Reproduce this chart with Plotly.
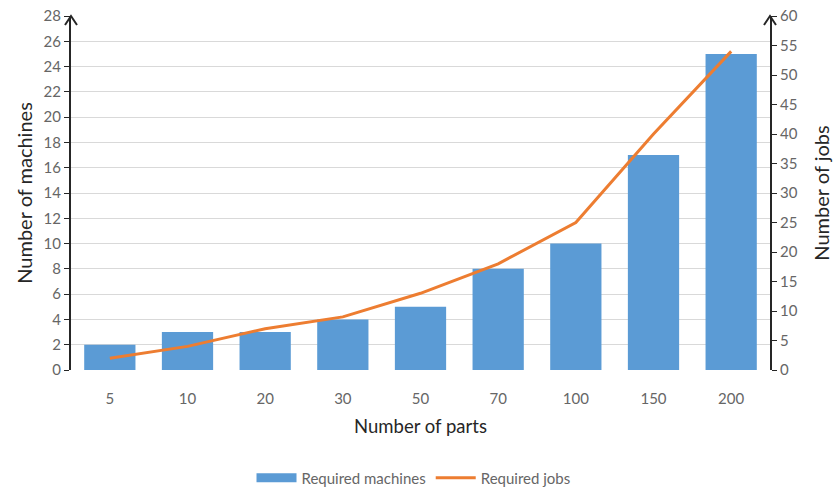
import plotly.graph_objects as go

parts = ["5", "10", "20", "30", "50", "70", "100", "150", "200"]
machines = [2, 3, 3, 4, 5, 8, 10, 17, 25]
jobs = [2, 4, 7, 9, 13, 18, 25, 40, 54]

FONT = "Lato"
TICK = "#666666"
DARK = "#262626"
BLUE = "#5B9BD5"
ORANGE = "#ED7D31"

fig = go.Figure()
fig.add_trace(go.Bar(x=parts, y=machines, name="Required machines", showlegend=False,
                     marker=dict(color=BLUE, line=dict(width=0)), yaxis="y"))
fig.add_trace(go.Scatter(x=parts, y=jobs, name="Required jobs", mode="lines", showlegend=False,
                         line=dict(color=ORANGE, width=3), yaxis="y2"))
# legend entries
fig.add_trace(go.Scatter(x=[None], y=[None], name="Required machines", mode="lines",
                         line=dict(color=BLUE, width=9)))
fig.add_trace(go.Scatter(x=[None], y=[None], name="Required jobs", mode="lines",
                         line=dict(color=ORANGE, width=3), yaxis="y2"))

fig.update_layout(
    width=833, height=489,
    margin=dict(l=71, r=63, t=16, b=119, autoexpand=False),
    plot_bgcolor="white", paper_bgcolor="white",
    font=dict(family=FONT, size=15, color=TICK),
    bargap=0.34,
    showlegend=True,
    legend=dict(orientation="h", x=0.49, xanchor="center", y=-0.305, yanchor="middle",
                font=dict(size=15, color=TICK), itemwidth=40, tracegroupgap=0),
    xaxis=dict(showgrid=False, ticks="outside", ticklen=15, tickcolor="rgba(0,0,0,0)",
               showline=False, automargin=False,
               title=dict(text="Number of parts", font=dict(size=18.5, color=DARK), standoff=14),
               tickfont=dict(size=15, color=TICK)),
    yaxis=dict(range=[0, 28], dtick=2, showgrid=True, gridcolor="#D9D9D9", gridwidth=1,
               showline=True, linecolor=DARK, linewidth=2, ticks="outside", automargin=False,
               ticklen=5, tickcolor=DARK, zeroline=False,
               title=dict(text="Number of machines", font=dict(size=20, color=DARK), standoff=6),
               tickfont=dict(size=15, color=TICK)),
    yaxis2=dict(range=[0, 60], dtick=5, overlaying="y", side="right", showgrid=False,
                showline=True, linecolor=DARK, linewidth=2, ticks="outside", automargin=False,
                ticklen=5, tickcolor=DARK, zeroline=False,
                title=dict(text="Number of jobs", font=dict(size=20, color=DARK), standoff=20),
                tickfont=dict(size=15, color=TICK)),
)

for xa in (0, 1):
    fig.add_shape(type="path", xref="x domain", yref="y domain",
                  xsizemode="pixel", ysizemode="pixel", xanchor=xa, yanchor=1,
                  path="M -6,-9 L 0,0 L 6,-9", line=dict(color=DARK, width=2))

fig.write_html("out.html", config={"displayModeBar": False},
               post_script="document.body.style.margin='0px';")
